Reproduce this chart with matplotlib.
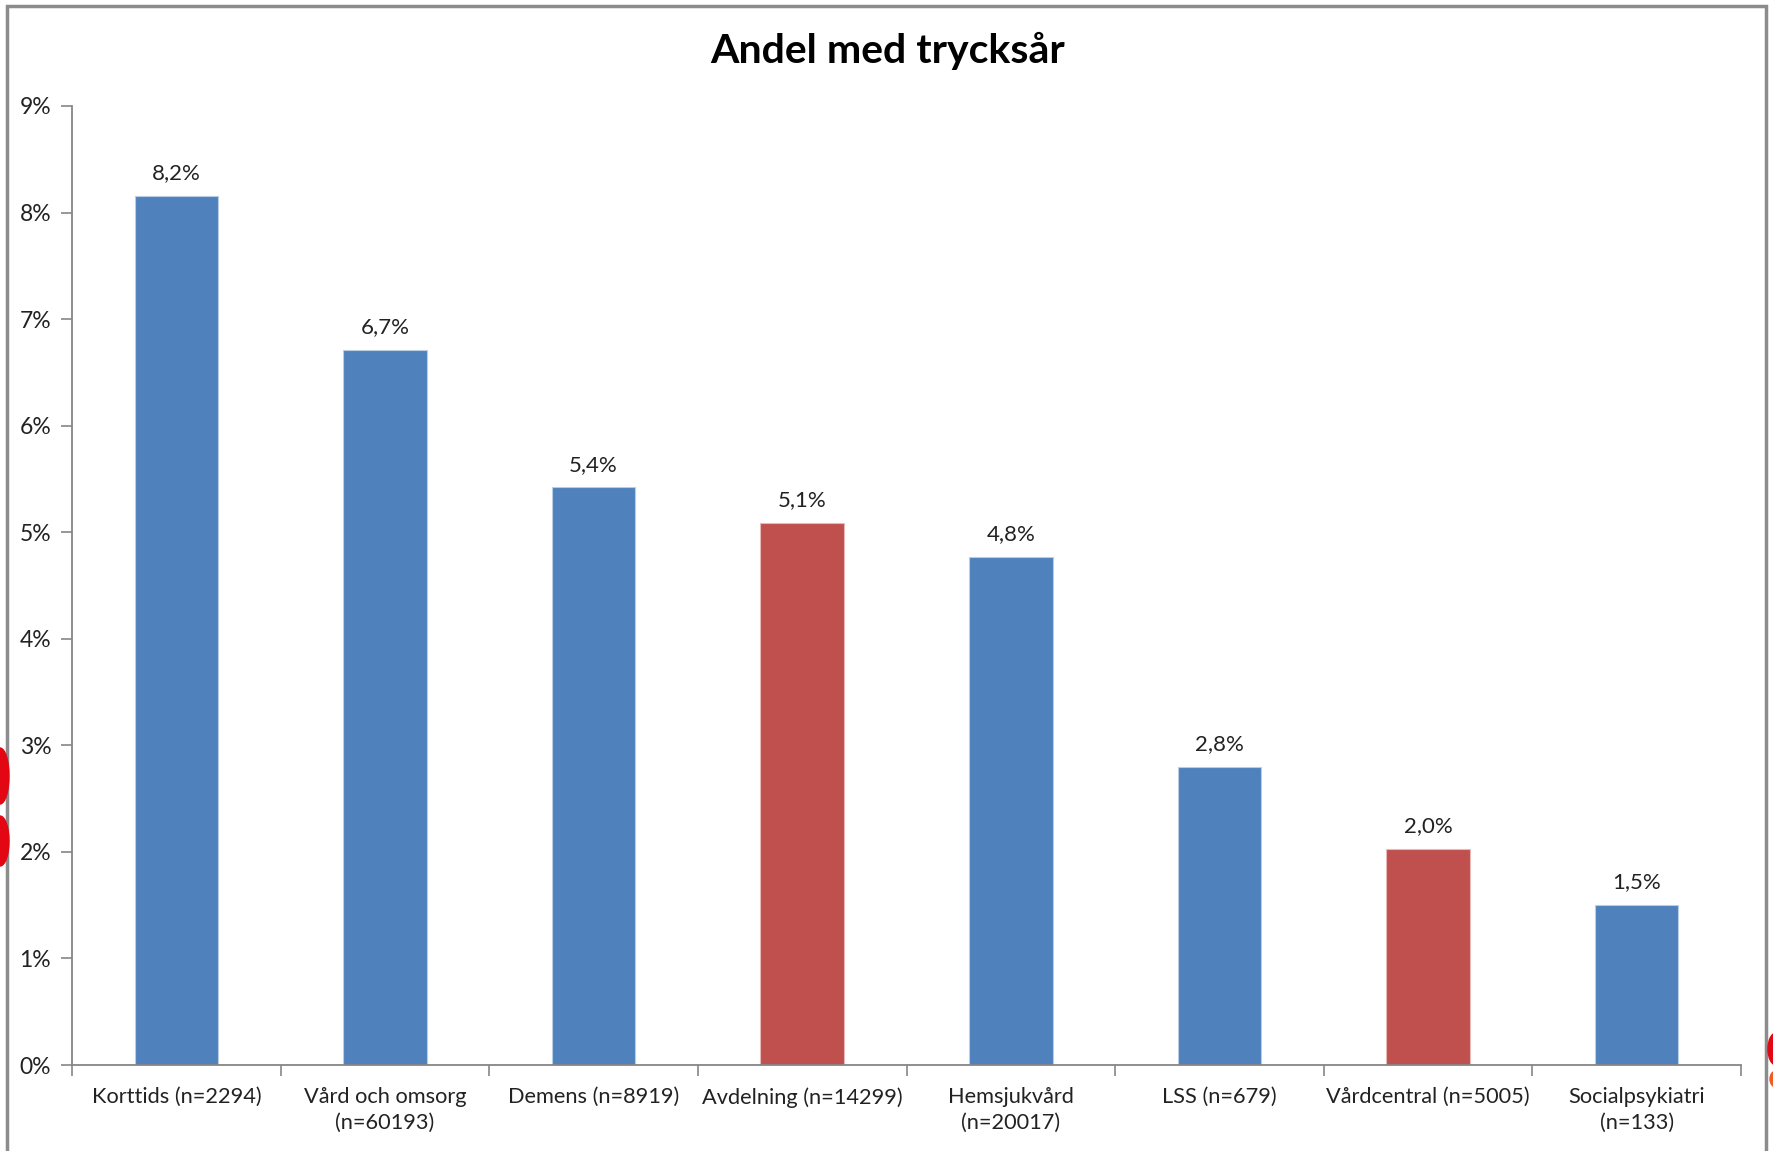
import matplotlib
matplotlib.use('Agg')
import matplotlib.pyplot as plt
from matplotlib.patches import Rectangle, Ellipse

plt.rcParams['font.family'] = ['Lato', 'DejaVu Sans']

# data
kategorier = ['Korttids (n=2294)', 'Vård och omsorg\n(n=60193)', 'Demens (n=8919)',
              'Avdelning (n=14299)', 'Hemsjukvård\n(n=20017)', 'LSS (n=679)',
              'Vårdcentral (n=5005)', 'Socialpsykiatri\n(n=133)']
andel = [8.16, 6.71, 5.42, 5.09, 4.77, 2.80, 2.03, 1.50]
landsting = [False, False, False, True, False, False, True, False]  # röda staplar
yticks = [0, 1, 2, 3, 4, 5, 6, 7, 8, 9]

bla = '#4F81BD'
rod = '#C0504D'
farger = [rod if r else bla for r in landsting]

fig = plt.figure(figsize=(17.73, 11.51), dpi=100)
ax = fig.add_axes([72/1773, 1 - 1065/1151, (1741-72)/1773, (1065-106)/1151])

x = list(range(len(kategorier)))
bars = ax.bar(x, andel, width=0.4, color=farger, edgecolor='#B9CDE5', linewidth=0.8)
for b, c in zip(bars, farger):
    if c == rod:
        b.set_edgecolor('#E6B9B8')

for xi, v in zip(x, andel):
    ax.text(xi, v + 0.12, f'{v:.1f}'.replace('.', ',') + '%', ha='center', va='bottom',
            fontsize=16, color='#222222')

ax.set_xlim(-0.5, len(kategorier) - 0.5)
ax.set_ylim(0, 9)
ax.set_yticks(yticks)
ax.set_yticklabels([f'{t}%' for t in yticks], fontsize=16.5, color='#222222')
ax.set_xticks(x)
ax.set_xticklabels(kategorier, fontsize=15.7, color='#222222', linespacing=1.35)
ax.set_xticks([i - 0.5 for i in range(len(kategorier) + 1)], minor=True)
ax.tick_params(axis='x', which='major', length=0, pad=16)
ax.tick_params(axis='x', which='minor', length=8, color='#868686', width=1.2, direction='out')
ax.tick_params(axis='y', length=8, color='#868686', width=1.2, pad=7)

for s in ['top', 'right']:
    ax.spines[s].set_visible(False)
for s in ['left', 'bottom']:
    ax.spines[s].set_color('#868686')
    ax.spines[s].set_linewidth(1.3)

fig.text(888/1773, 1 - 51/1151, 'Andel med trycksår', ha='center', va='center',
         fontsize=29.5, fontweight='bold', color='black')

# ram runt diagrammet
fig.patches.append(Rectangle((7/1773, -0.02), (1766-7)/1773, 1.02 - 6/1151,
                             transform=fig.transFigure, fill=False,
                             edgecolor='#8C8C8C', linewidth=2.5))

# röda bitar av bakgrunden vid kanterna
for (cx, cy, w, h, c) in [(0, 776, 18, 56, '#E30613'), (0, 841, 18, 50, '#E30613'),
                          (1776, 1049, 16, 32, '#E30613'), (1776, 1079, 12, 16, '#F15A24')]:
    fig.patches.append(Ellipse((cx/1773, 1 - cy/1151), w/1773, h/1151,
                               transform=fig.transFigure, color=c, zorder=5))

fig.savefig('out.png', dpi=100)
